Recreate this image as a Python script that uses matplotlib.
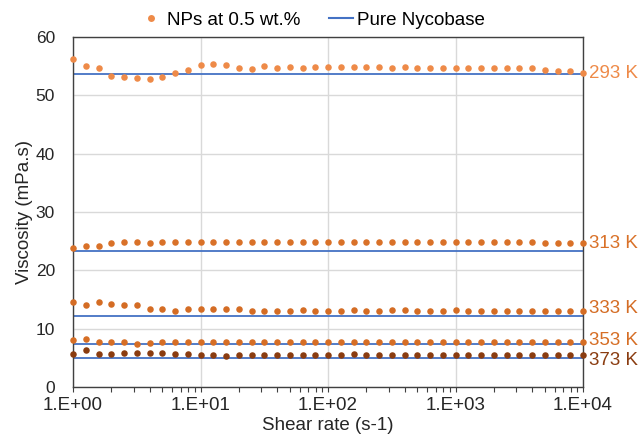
import numpy as np
import matplotlib
matplotlib.use("Agg")
import matplotlib.pyplot as plt
from matplotlib.ticker import LogLocator, FixedLocator, NullFormatter
from matplotlib.lines import Line2D

plt.rcParams['font.family'] = ['Liberation Sans', 'DejaVu Sans']

# Shear rate: 10 points per decade from 1e0 to 1e4
exponents = [k / 10 for k in range(41)]
shear = [10 ** e for e in exponents]

v293 = [56.2, 55.0, 54.7, 53.4, 53.2, 52.9, 52.8, 53.2, 53.8, 54.3, 55.2, 55.4, 55.2,
        54.7, 54.5, 55.0, 54.7, 54.9, 54.6, 54.9, 54.9, 54.9, 54.9, 54.9, 54.8, 54.6,
        54.9, 54.7, 54.6, 54.6, 54.6, 54.7, 54.7, 54.7, 54.7, 54.7, 54.6, 54.4, 54.2,
        54.1, 53.8]
v313 = [23.9, 24.1, 24.1, 24.6, 24.8, 24.9, 24.6, 24.8, 24.9, 24.8, 24.9, 24.8, 24.8,
        24.8, 24.8, 24.8, 24.8, 24.8, 24.8, 24.8, 24.8, 24.8, 24.8, 24.8, 24.8, 24.8,
        24.8, 24.8, 24.8, 24.8, 24.8, 24.8, 24.8, 24.8, 24.8, 24.8, 24.8, 24.6, 24.6,
        24.6, 24.6]
v333 = [14.5, 14.1, 14.5, 14.3, 14.0, 14.0, 13.4, 13.3, 13.1, 13.4, 13.4, 13.4, 13.4,
        13.3, 13.1, 13.0, 13.1, 13.0, 13.2, 13.0, 13.0, 13.0, 13.2, 13.0, 13.0, 13.2,
        13.2, 13.0, 13.0, 13.0, 13.2, 13.0, 13.0, 13.0, 13.0, 13.0, 13.0, 13.0, 13.0,
        13.0, 13.0]
v353 = [8.1, 8.2, 7.8, 7.8, 7.8, 7.3, 7.5, 7.8, 7.8, 7.8, 7.8, 7.8, 7.8, 7.8, 7.8,
        7.8, 7.8, 7.8, 7.8, 7.8, 7.8, 7.8, 7.8, 7.8, 7.8, 7.8, 7.8, 7.8, 7.8, 7.8, 7.8,
        7.8, 7.8, 7.8, 7.8, 7.8, 7.8, 7.8, 7.8, 7.8, 7.8]
v373 = [5.6, 6.3, 5.6, 5.6, 5.9, 5.8, 5.8, 5.75, 5.6, 5.6, 5.45, 5.45, 5.4, 5.45, 5.45,
        5.45, 5.45, 5.45, 5.45, 5.45, 5.45, 5.45, 5.6, 5.45, 5.45, 5.45, 5.45, 5.45, 5.45,
        5.45, 5.45, 5.45, 5.45, 5.45, 5.45, 5.45, 5.45, 5.45, 5.45, 5.45, 5.45]

pure = [53.7, 23.3, 12.1, 7.3, 4.9]
labels = ["293 K", "313 K", "333 K", "353 K", "373 K"]
colors = ["#EE8A48", "#D97128", "#D46C24", "#D66E25", "#8A3C10"]
label_dy = [0, 0, 2, 1, -4]
series = [v293, v313, v333, v353, v373]

FS = 13.5

fig = plt.figure(figsize=(6.4, 4.44), dpi=100)
ax = fig.add_axes([73 / 640, 1 - 387 / 444, 510 / 640, 350 / 444])

for vals, p, c, lab, dy in zip(series, pure, colors, labels, label_dy):
    ax.plot([shear[0], shear[-1]], [p, p], color="#4472C4", lw=1.3, zorder=2)
    ax.scatter(shear, vals, s=22, color=c, zorder=3, linewidths=0, clip_on=False)
    ax.annotate(lab, xy=(shear[-1], vals[-1]), xytext=(4, dy), textcoords="offset points",
                va="center", ha="left", color=c, fontsize=FS, annotation_clip=False)

ax.set_xscale("log")
ax.set_xlim(1, 1e4)
ax.set_ylim(0, 60)
ax.set_yticks([0, 10, 20, 30, 40, 50, 60])
ax.xaxis.set_major_locator(FixedLocator([1, 10, 100, 1000, 10000]))
ax.set_xticklabels(["1.E+00", "1.E+01", "1.E+02", "1.E+03", "1.E+04"])
ax.xaxis.set_minor_locator(LogLocator(base=10, subs=np.arange(2, 10)))
ax.xaxis.set_minor_formatter(NullFormatter())
ax.tick_params(axis="x", which="both", direction="out", length=3.5, width=0.8,
               color="#404040", labelsize=FS, pad=4, labelcolor="#262626")
ax.tick_params(axis="y", which="both", length=0, labelsize=12.5, pad=13, labelcolor="#262626")
ax.grid(True, which="major", color="#D9D9D9", lw=1)
ax.set_axisbelow(True)
for s in ax.spines.values():
    s.set_color("#404040")
    s.set_linewidth(1)

ax.set_xlabel("Shear rate (s-1)", fontsize=FS, color="#262626", labelpad=2)
ax.set_ylabel("Viscosity (mPa.s)", fontsize=FS, color="#262626")
ax.yaxis.set_label_coords(-0.079, 0.5)

handles = [Line2D([], [], marker="o", ls="none", color="#EE8A48", markersize=5, markeredgewidth=0),
           Line2D([], [], color="#4472C4", lw=1.5)]
fig.legend(handles, ["NPs at 0.5 wt.%", "Pure Nycobase"], loc="center",
           bbox_to_anchor=(312 / 640, 1 - 20 / 444), ncol=2, frameon=False,
           fontsize=FS, handlelength=1.3, columnspacing=1.5, handletextpad=0.2)

fig.savefig("out.png", dpi=100)
